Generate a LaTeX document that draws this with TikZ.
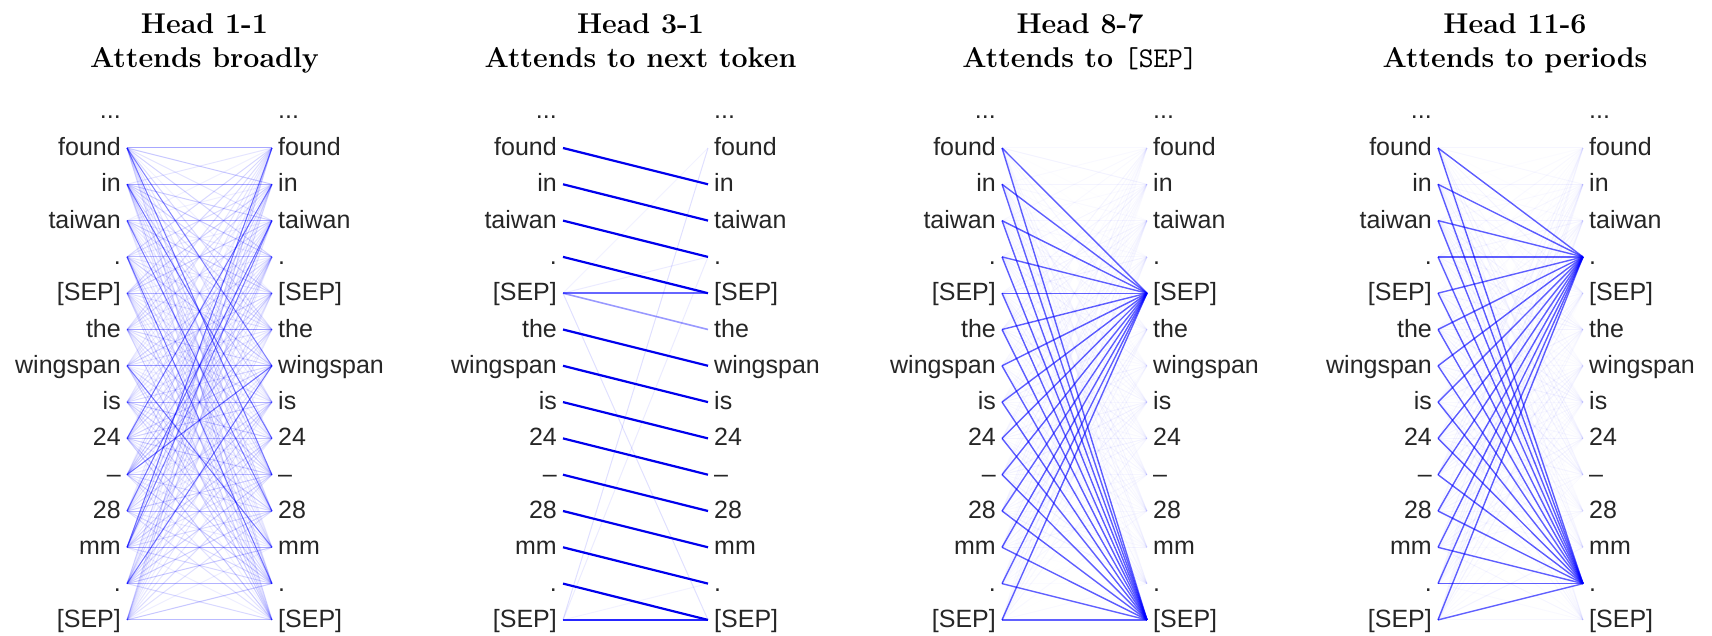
\documentclass[tikz,border=0pt]{standalone}
\usepackage{fontspec}
\newfontfamily\tokfont{Liberation Sans}
\tikzset{
  tok/.style={inner sep=0pt, text=black!85, font=\tokfont\fontsize{25}{30}\selectfont},
  ttl/.style={inner sep=0pt, anchor=base, text=black, font=\bfseries\fontsize{28.6}{34}\selectfont},
  att/.style={draw=blue, line width=1pt},
  nxt/.style={draw=blue!93!black, line width=2.2pt},
  sep/.style={draw=blue, line width=1.4pt, opacity=0.62},
}
\begin{document}
\begin{tikzpicture}[x=1pt,y=-1pt]
\useasboundingbox (0,0) rectangle (1712,636);
% titles
\node[ttl] (t1a) at (204.5,34) {Head 1-1};
\node[ttl] (t1b) at (204.5,68) {Attends broadly};
\node[ttl] (t2a) at (640.5,34) {Head 3-1};
\node[ttl] (t2b) at (640.5,68) {Attends to next token};
\node[ttl] (t3a) at (1080,34) {Head 8-7};
\node[ttl] (t3b) at (1080,68) {Attends to {\mdseries\ttfamily [SEP]}};
\node[ttl] (t4a) at (1515,34) {Head 11-6};
\node[ttl] (t4b) at (1515,68) {Attends to periods};
% tokens and anchor points
\foreach \p/\lx in {1/127,2/563,3/1002,4/1438}{
  \pgfmathsetmacro\rx{\lx+145}
  \node[tok,anchor=base east] (p\p-ld) at (\lx-6,118.5) {...};
  \node[tok,anchor=base west] (p\p-rd) at (\rx+6,118.5) {...};
  \foreach \t [count=\i from 0] in {found,in,taiwan,.,{[SEP]},the,wingspan,is,24,–,28,mm,.,{[SEP]}}{
    \pgfmathsetmacro\y{148+36.3*\i}
    \coordinate (p\p-l\i) at (\lx,\y);
    \coordinate (p\p-r\i) at (\rx,\y);
    \node[tok,anchor=base east] (p\p-lt\i) at (\lx-6,\y+7.5) {\t};
    \node[tok,anchor=base west] (p\p-rt\i) at (\rx+6,\y+7.5) {\t};
  }
}
% ---- panel 1: broad attention
\pgfmathsetseed{11}
\foreach \i in {0,...,13}{
  \foreach \j in {0,...,13}{
    \pgfmathsetmacro\op{0.05+0.17*rnd}
    \draw[att, opacity=\op] (p1-l\i) -- (p1-r\j);
  }
  \draw[att, opacity=0.22] (p1-l\i) -- (p1-r\i);
}
\foreach \i/\j in {0/6,0/9,1/8,11/2,10/2,11/0,9/6,6/11,2/10,12/6,8/1,3/12}{
  \draw[att, opacity=0.45] (p1-l\i) -- (p1-r\j);
}
% ---- panel 2: next token
\foreach \i/\j/\o in {4/13/0.12,4/3/0.08,13/0/0.12,13/3/0.08,13/12/0.05,4/0/0.05}{
  \draw[att, opacity=\o] (p2-l\i) -- (p2-r\j);
}
\draw[att, line width=1.6pt, opacity=0.6] (p2-l4) -- (p2-r4);
\draw[att, line width=1.6pt, opacity=0.4] (p2-l4) -- (p2-r5);
\draw[att, line width=1.8pt, opacity=0.85] (p2-l13) -- (p2-r13);
\foreach \i/\j in {0/1,1/2,2/3,3/4,5/6,6/7,7/8,8/9,9/10,10/11,11/12,12/13}{
  \draw[nxt] (p2-l\i) -- (p2-r\j);
}
% ---- panels 3 and 4: faint background
\pgfmathsetseed{5}
\foreach \p in {3,4}{
  \foreach \i in {0,...,13}{
    \foreach \j in {0,...,13}{
      \pgfmathsetmacro\op{0.005+0.045*rnd}
      \draw[att, opacity=\op] (p\p-l\i) -- (p\p-r\j);
    }
  }
}
% ---- panel 3: attends to [SEP]
\foreach \i in {0,...,13}{
  \draw[sep] (p3-l\i) -- (p3-r4);
  \draw[sep] (p3-l\i) -- (p3-r13);
}
% ---- panel 4: attends to periods
\foreach \i in {0,...,13}{
  \draw[sep] (p4-l\i) -- (p4-r3);
  \draw[sep] (p4-l\i) -- (p4-r12);
}
\end{tikzpicture}
\end{document}
